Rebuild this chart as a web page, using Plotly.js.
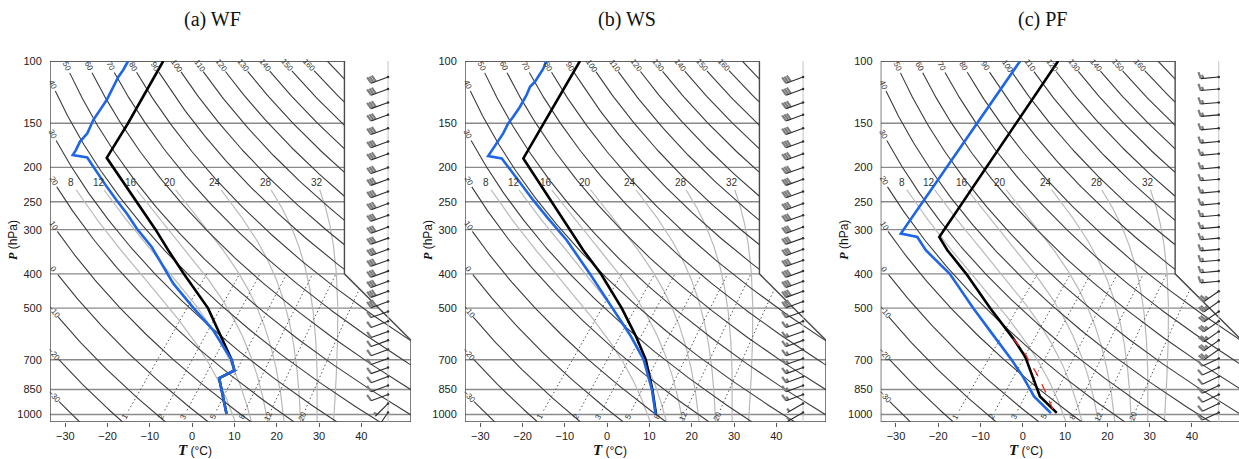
<!DOCTYPE html>
<html><head><meta charset="utf-8">
<script src="https://cdn.plot.ly/plotly-3.0.1.min.js"></script>
<style>html,body{margin:0;padding:0;background:#fff}#chart{width:1239px;height:459px}</style>
</head><body><div id="chart"></div>
<script>
// ================= DATA =================
const panelTitles = ['(a) WF', '(b) WS', '(c) PF'];
const tempTicks = [-30, -20, -10, 0, 10, 20, 30, 40];
const pressTicks = [100, 150, 200, 250, 300, 400, 500, 700, 850, 1000];
const dryThetas = [-30, -20, -10, 0, 10, 20, 30, 40, 50, 60, 70, 80, 90, 100, 110, 120, 130, 140, 150, 160, 170];
const moistThetaW = [8, 12, 16, 20, 24, 28, 32];
const mixRatios = [1, 2, 3, 5, 8, 12, 20];

// (a) WF
const wfTempP = [100, 150, 187.9, 250, 300, 343, 400, 500, 578, 645, 700, 750.6, 789, 995];
const wfTempT = [-82.4, -77.7, -75.5, -59.2, -48.9, -41.6, -33.0, -20.1, -13.0, -7.7, -3.7, -0.8, -2.8, 6.4];
const wfDewP = [100, 106, 110.8, 115.7, 120.9, 129, 137.7, 146.9, 160.2, 169.3, 178.7, 184.6, 187.4, 199.3, 227, 247.6, 270, 297.8, 335.8, 426.4, 500, 578, 644.8, 700, 750.6, 789, 995];
const wfDewT = [-90.7, -90.0, -89.7, -89.1, -88.5, -87.6, -87.1, -86.6, -85.2, -85.2, -84.4, -84.1, -80.2, -76.8, -69.4, -64.3, -59.1, -53.6, -46.2, -33.4, -23.5, -14.2, -8.3, -3.7, -0.8, -2.8, 6.4];

// (b) WS
const wsTempP = [100, 188.6, 343, 400, 500, 600, 700, 850, 1000];
const wsTempT = [-82.0, -75.0, -41.6, -32.5, -20.4, -11.2, -3.9, 3.9, 10.0];
const wsDewP = [100, 104.9, 114.4, 118.3, 124.9, 134.7, 143.8, 150.2, 160.2, 171.1, 185.8, 188.6, 197.1, 222.1, 247.6, 276.1, 321.4, 400, 500, 600, 700, 850, 1000];
const wsDewT = [-90.0, -89.1, -88.3, -88.4, -87.5, -86.6, -86.1, -85.9, -85.0, -84.4, -83.8, -80.1, -77.5, -70.5, -63.9, -57.2, -47.6, -35.1, -22.5, -12.4, -4.4, 3.8, 9.9];

// (c) PF
const pfTempP = [100, 150, 200, 250, 314.6, 343, 400, 500, 610, 685, 784, 889, 989];
const pfTempT = [-67.2, -64.1, -61.9, -60.2, -58.5, -53.8, -44.4, -31.6, -19.7, -13.2, -7.1, -1.3, 6.1];
const pfDewP = [100, 150, 200, 250, 307.7, 314.6, 343, 400, 500, 597.3, 700, 784, 850, 889, 991.5];
const pfDewT = [-76.2, -73.4, -71.3, -69.7, -68.3, -63.7, -58.9, -48.3, -35.6, -25.1, -15.7, -9.3, -5.1, -2.7, 4.8];
const pfParcelP = [610, 673, 767, 855, 970];
const pfParcelT = [-19.7, -13.8, -6.8, -1.4, 4.6];

// wind barbs (direction deg, speed kt)
const barbP = [111, 120, 131, 142, 155, 169, 183, 200, 216, 234, 253, 273, 295, 317, 341, 366, 393, 420, 448, 479, 511, 545, 582, 617, 655, 694, 736, 781, 828, 878, 931, 987];
const wfWindDir = [250, 250, 250, 250, 250, 250, 250, 250, 250, 250, 250, 250, 250, 250, 250, 250, 250, 250, 250, 250, 250, 250, 250, 250, 250, 250, 250, 250, 250, 250, 225, 215];
const wfWindSpd = [30, 30, 30, 30, 30, 30, 30, 30, 30, 30, 30, 30, 30, 30, 30, 30, 30, 30, 30, 30, 10, 10, 10, 10, 10, 10, 10, 10, 10, 10, 5, 5];
const wsWindDir = [250, 250, 250, 250, 250, 250, 250, 250, 250, 250, 250, 250, 250, 250, 250, 250, 250, 250, 250, 250, 250, 250, 250, 250, 250, 250, 250, 250, 250, 250, 240, 240];
const wsWindSpd = [30, 30, 30, 30, 30, 30, 30, 30, 30, 30, 30, 30, 30, 30, 30, 30, 30, 30, 30, 30, 15, 15, 15, 15, 15, 15, 15, 15, 15, 15, 5, 5];
const pfWindDir = [265, 265, 265, 265, 265, 265, 265, 265, 265, 265, 265, 265, 265, 265, 265, 265, 265, 265, 235, 235, 235, 235, 235, 235, 235, 245, 245, 245, 245, 245, 245, 245];
const pfWindSpd = [15, 15, 15, 15, 15, 15, 15, 15, 15, 15, 15, 15, 15, 15, 15, 15, 15, 15, 25, 25, 25, 25, 25, 25, 25, 10, 10, 10, 10, 10, 10, 10];

// ================= SKEW-T GEOMETRY =================
const panels = [
  {tP: wfTempP, tT: wfTempT, dP: wfDewP, dT: wfDewT, wd: wfWindDir, ws: wfWindSpd, left: 50, right: 411},
  {tP: wsTempP, tT: wsTempT, dP: wsDewP, dT: wsDewT, wd: wsWindDir, ws: wsWindSpd, left: 465, right: 826},
  {tP: pfTempP, tT: pfTempT, dP: pfDewP, dT: pfDewT, wd: pfWindDir, ws: pfWindSpd, left: 880.7, right: 1239, parcelP: pfParcelP, parcelT: pfParcelT}
];
const W = 1239, H = 459, TOP = 61, BOT = 422;
const XMIN = -19.0, XMAX = 27.1, YMIN = -0.9346, YMAX = 44.061;
const PX_X = 361 / (XMAX - XMIN);
const PX_Y = (BOT - TOP) / (YMAX - YMIN);
const POLY = [[XMIN, YMIN], [XMAX, YMIN], [XMAX, 9.25], [18.6, 17.53], [18.6, YMAX], [XMIN, YMAX]];
const STAFF_X = 24.17;

function skewY(P) { return 132.182 - 44.061 * Math.log10(P); }
function skewX(T, P) { return 0.54 * T + 0.90692 * skewY(P); }
function pFromY(Y) { return Math.pow(10, (132.182 - Y) / 44.061); }

function inside(pt) {
  let c = false;
  for (let i = 0, j = POLY.length - 1; i < POLY.length; j = i++) {
    const xi = POLY[i][0], yi = POLY[i][1], xj = POLY[j][0], yj = POLY[j][1];
    if (((yi > pt[1]) !== (yj > pt[1])) && (pt[0] < (xj - xi) * (pt[1] - yi) / (yj - yi) + xi)) c = !c;
  }
  return c;
}
function segInts(a, b) {
  const ts = [];
  for (let i = 0; i < POLY.length; i++) {
    const c = POLY[i], d = POLY[(i + 1) % POLY.length];
    const r = [b[0] - a[0], b[1] - a[1]], s = [d[0] - c[0], d[1] - c[1]];
    const den = r[0] * s[1] - r[1] * s[0];
    if (Math.abs(den) < 1e-12) continue;
    const t = ((c[0] - a[0]) * s[1] - (c[1] - a[1]) * s[0]) / den;
    const u = ((c[0] - a[0]) * r[1] - (c[1] - a[1]) * r[0]) / den;
    if (t > 1e-9 && t < 1 - 1e-9 && u >= -1e-9 && u <= 1 + 1e-9) ts.push(t);
  }
  return ts.sort((p, q) => p - q);
}
function clip(pts) {
  const segs = []; let cur = null;
  for (let k = 0; k < pts.length - 1; k++) {
    const a = pts[k], b = pts[k + 1];
    const ts = [0].concat(segInts(a, b), [1]);
    for (let m = 0; m < ts.length - 1; m++) {
      const t0 = ts[m], t1 = ts[m + 1];
      if (t1 - t0 < 1e-12) continue;
      const at = t => [a[0] + (b[0] - a[0]) * t, a[1] + (b[1] - a[1]) * t];
      if (inside(at((t0 + t1) / 2))) {
        if (!cur) { cur = [at(t0)]; segs.push(cur); }
        cur.push(at(t1));
      } else cur = null;
    }
  }
  return segs;
}
function pxDist(a, b) { return Math.hypot((b[0] - a[0]) * PX_X, (b[1] - a[1]) * PX_Y); }
function walk(seg, dist) {
  let acc = 0;
  for (let i = 0; i < seg.length - 1; i++) {
    const d = pxDist(seg[i], seg[i + 1]);
    if (acc + d >= dist) {
      const f = (dist - acc) / d;
      const pt = [seg[i][0] + (seg[i + 1][0] - seg[i][0]) * f, seg[i][1] + (seg[i + 1][1] - seg[i][1]) * f];
      let ang = Math.atan2(-(seg[i + 1][1] - seg[i][1]) * PX_Y, (seg[i + 1][0] - seg[i][0]) * PX_X) * 180 / Math.PI;
      if (ang > 90) ang -= 180; if (ang < -90) ang += 180;
      return {idx: i, pt: pt, ang: ang};
    }
    acc += d;
  }
  return null;
}
function cutFrom(seg, dist) {
  const w = walk(seg, dist);
  if (!w) return [];
  return [w.pt].concat(seg.slice(w.idx + 1));
}
function pushSegs(tr, segs) {
  segs.forEach(s => { s.forEach(p => { tr.x.push(p[0]); tr.y.push(pFromY(p[1])); }); tr.x.push(null); tr.y.push(null); });
}
function logSpace(p0, p1, n) { const a = []; for (let i = 0; i <= n; i++) a.push(p0 * Math.pow(p1 / p0, i / n)); return a; }

// moist adiabat integration (pseudo-adiabatic)
function esat(Tk) { const t = Tk - 273.15; return 6.112 * Math.exp(17.67 * t / (t + 243.5)); }
function dTdlnp(Tk, p) {
  const Rd = 287.04, cp = 1005.7, L = 2.501e6, eps = 0.622;
  const es = esat(Tk), rs = eps * es / (p - es);
  return (Rd * Tk + L * rs) / (cp + L * L * rs * eps / (Rd * Tk * Tk));
}
function moistCurve(thw, pTop, pBot) {
  const out = [];
  const step = 0.004;
  function integ(pEnd) {
    let T = thw + 273.15, lp = Math.log(1000);
    const res = [[1000, T]];
    const dir = pEnd < 1000 ? -1 : 1;
    while (dir < 0 ? Math.exp(lp) > pEnd : Math.exp(lp) < pEnd) {
      const h = dir * step;
      const k1 = dTdlnp(T, Math.exp(lp));
      const k2 = dTdlnp(T + h * k1 / 2, Math.exp(lp + h / 2));
      const k3 = dTdlnp(T + h * k2 / 2, Math.exp(lp + h / 2));
      const k4 = dTdlnp(T + h * k3, Math.exp(lp + h));
      T += h * (k1 + 2 * k2 + 2 * k3 + k4) / 6; lp += h;
      res.push([Math.exp(lp), T]);
    }
    return res;
  }
  const up = integ(pTop), dn = integ(pBot);
  up.reverse().forEach(r => out.push(r));
  dn.slice(1).forEach(r => out.push(r));
  return out.map(r => [skewX(r[1] - 273.15, r[0]), skewY(r[0])]);
}

// ================= BUILD =================
const traces = [], annotations = [];
const layout = {
  width: W, height: H, margin: {l: 0, r: 0, t: 0, b: 0},
  paper_bgcolor: '#fff', plot_bgcolor: 'rgba(0,0,0,0)', showlegend: false,
  annotations: annotations
};
const SANS = 'Liberation Sans, Arial, Helvetica, sans-serif';
const SERIF = 'Liberation Serif, Times New Roman, serif';

panels.forEach((pn, i) => {
  const xa = i === 0 ? 'x' : 'x' + (i + 1), ya = i === 0 ? 'y' : 'y' + (i + 1);
  const xmaxView = XMIN + (pn.right - pn.left) / PX_X;
  layout['xaxis' + (i === 0 ? '' : i + 1)] = {
    domain: [pn.left / W, Math.min(1, pn.right / W)], range: [XMIN, xmaxView], anchor: ya,
    tickmode: 'array', tickvals: tempTicks.map(t => skewX(t, 1050)), ticktext: tempTicks.map(t => t === 0 ? '0' : String(t).replace('-', '\u2212')),
    ticks: 'outside', ticklen: 4, tickwidth: 1, tickcolor: '#555', showgrid: false, zeroline: false, showline: false,
    tickfont: {family: SANS, size: 11, color: '#222'}, fixedrange: true, automargin: false
  };
  layout['yaxis' + (i === 0 ? '' : i + 1)] = {
    domain: [1 - BOT / H, 1 - TOP / H], type: 'log', range: [Math.log10(1050), 2], anchor: xa,
    tickmode: 'array', tickvals: pressTicks, ticktext: pressTicks.map(String),
    ticks: 'outside', ticklen: 5, tickcolor: 'rgba(0,0,0,0)', showgrid: false, zeroline: false, showline: false,
    tickfont: {family: SANS, size: 11, color: '#222'}, fixedrange: true, automargin: false
  };
  const mk = (color, width, dash) => ({type: 'scatter', mode: 'lines', x: [], y: [], xaxis: xa, yaxis: ya, hoverinfo: 'skip',
    line: {color: color, width: width, dash: dash || 'solid'}, connectgaps: false});

  // isobars
  const iso = mk('#8a8a8a', 1.4);
  pressTicks.forEach(p => pushSegs(iso, clip([[XMIN - 1, skewY(p)], [XMAX + 1, skewY(p)]])));
  traces.push(iso);

  // moist adiabats
  const moist = mk('#b9b9b9', 1.2);
  moistThetaW.forEach(th => {
    const pts = moistCurve(th, 232, 1060);
    pushSegs(moist, clip(pts));
    const lab = moistCurve(th, 221, 1000)[0];
    annotations.push({xref: xa, yref: ya, x: lab[0], y: Math.log10(pFromY(lab[1])), text: String(th), showarrow: false,
      font: {family: SANS, size: 10, color: '#333'}, xanchor: 'center', yanchor: 'middle'});
  });
  traces.push(moist);

  // mixing ratio lines
  const mix = mk('#555', 1, '1.5px,2.5px');
  mixRatios.forEach(w => {
    const pts = logSpace(1050, 400, 80).map(p => {
      const e = w * p / (622 + w), l = Math.log(e / 6.112), td = 243.5 * l / (17.67 - l);
      return [skewX(td, p), skewY(p)];
    });
    const segs = clip(pts);
    if (!segs.length) return;
    const s0 = segs[0];
    const lab = walk(s0, 6);
    if (lab) annotations.push({xref: xa, yref: ya, x: lab.pt[0], y: Math.log10(pFromY(lab.pt[1])), text: String(w), showarrow: false,
      textangle: lab.ang, font: {family: SANS, size: 8, color: '#333'}, xanchor: 'center', yanchor: 'middle'});
    pushSegs(mix, [cutFrom(s0, 13)].concat(segs.slice(1)));
  });
  traces.push(mix);

  // dry adiabats
  const dry = mk('#3c3c3c', 1.1);
  dryThetas.forEach(th => {
    const pts = logSpace(100, 1050, 160).map(p => [skewX((th + 273.15) * Math.pow(p / 1000, 0.28571) - 273.15, p), skewY(p)]);
    const segs = clip(pts);
    if (!segs.length) return;
    const s0 = segs[0];
    if (th <= 160) {
      const lab = walk(s0, 6);
      if (lab) annotations.push({xref: xa, yref: ya, x: lab.pt[0], y: Math.log10(pFromY(lab.pt[1])), text: String(th).replace('-', '\u2212'), showarrow: false,
        textangle: lab.ang, font: {family: SANS, size: 8, color: '#333'}, xanchor: 'center', yanchor: 'middle'});
      pushSegs(dry, [cutFrom(s0, 13)].concat(segs.slice(1)));
    } else pushSegs(dry, segs);
  });
  traces.push(dry);

  // outline
  const outl = mk('#4a4a4a', 1.4);
  POLY.concat([POLY[0]]).forEach(p => { outl.x.push(p[0]); outl.y.push(pFromY(p[1])); });
  traces.push(outl);

  // wind staff
  const staff = mk('#c4c4c4', 1);
  staff.x = [STAFF_X, STAFF_X]; staff.y = [100, 1050];
  traces.push(staff);

  // wind barbs
  const shafts = mk('#2a2a2a', 1.1), feath = mk('#7d7d7d', 2.2);
  const dots = {type: 'scatter', mode: 'markers', x: [], y: [], xaxis: xa, yaxis: ya, hoverinfo: 'skip',
    marker: {size: 2.5, color: '#333'}};
  const toData = (P0, dx, dy) => [STAFF_X + dx / PX_X, pFromY(skewY(P0) - dy / PX_Y)];
  barbP.forEach((P0, k) => {
    const d = pn.wd[k] * Math.PI / 180, spd = pn.ws[k];
    const ux = Math.sin(d), uy = Math.cos(d);
    const L = 18;
    const sx = ux, sy = -uy;
    const a = 75 * Math.PI / 180;
    const fx = ux * Math.cos(a) + uy * Math.sin(a), fy = -ux * Math.sin(a) + uy * Math.cos(a);
    const fsx = fx, fsy = -fy;
    let p = toData(P0, 0, 0), q = toData(P0, L * sx, L * sy);
    shafts.x.push(p[0], q[0], null); shafts.y.push(p[1], q[1], null);
    dots.x.push(p[0]); dots.y.push(p[1]);
    let n10 = Math.floor(spd / 10), n5 = Math.round((spd % 10) / 5);
    let pos = L;
    for (let f = 0; f < n10; f++) {
      const b0 = toData(P0, pos * sx, pos * sy), b1 = toData(P0, pos * sx + 7 * fsx, pos * sy + 7 * fsy);
      feath.x.push(b0[0], b1[0], null); feath.y.push(b0[1], b1[1], null);
      pos -= 2.5;
    }
    if (n5) {
      if (n10 === 0) pos -= 2.5;
      const b0 = toData(P0, pos * sx, pos * sy), b1 = toData(P0, pos * sx + 3.8 * fsx, pos * sy + 3.8 * fsy);
      feath.x.push(b0[0], b1[0], null); feath.y.push(b0[1], b1[1], null);
    }
  });
  traces.push(feath, shafts, dots);

  // profiles
  const prof = (P, T, color, width, dash) => {
    const t = mk(color, width, dash);
    t.x = T.map((v, j) => skewX(v, P[j])); t.y = P.slice();
    return t;
  };
  traces.push(prof(pn.tP, pn.tT, '#000000', 2.6));
  traces.push(prof(pn.dP, pn.dT, '#1f66e5', 2.6));
  if (pn.parcelP) traces.push(prof(pn.parcelP, pn.parcelT, '#e3261f', 1.3, 'dash'));

  // titles
  annotations.push({xref: 'paper', yref: 'paper', x: (pn.left + 162) / W, y: 1 - 19 / H, text: panelTitles[i], showarrow: false,
    font: {family: SERIF, size: 20, color: '#111'}, xanchor: 'center', yanchor: 'middle'});
  annotations.push({xref: 'paper', yref: 'paper', x: (pn.left - 37) / W, y: 1 - 240 / H, textangle: -90,
    text: '<span style="font-family:Liberation Serif"><b><i>P</i></b></span> (hPa)', showarrow: false,
    font: {family: SANS, size: 12, color: '#111'}, xanchor: 'center', yanchor: 'middle'});
  annotations.push({xref: 'paper', yref: 'paper', x: (pn.left + 145) / W, y: 1 - 450 / H,
    text: '<span style="font-family:Liberation Serif;font-size:15px"><b><i>T</i></b></span> (°C)', showarrow: false,
    font: {family: SANS, size: 12, color: '#111'}, xanchor: 'center', yanchor: 'middle'});
});

Plotly.newPlot('chart', traces, layout, {staticPlot: true, displayModeBar: false});
</script></body></html>
